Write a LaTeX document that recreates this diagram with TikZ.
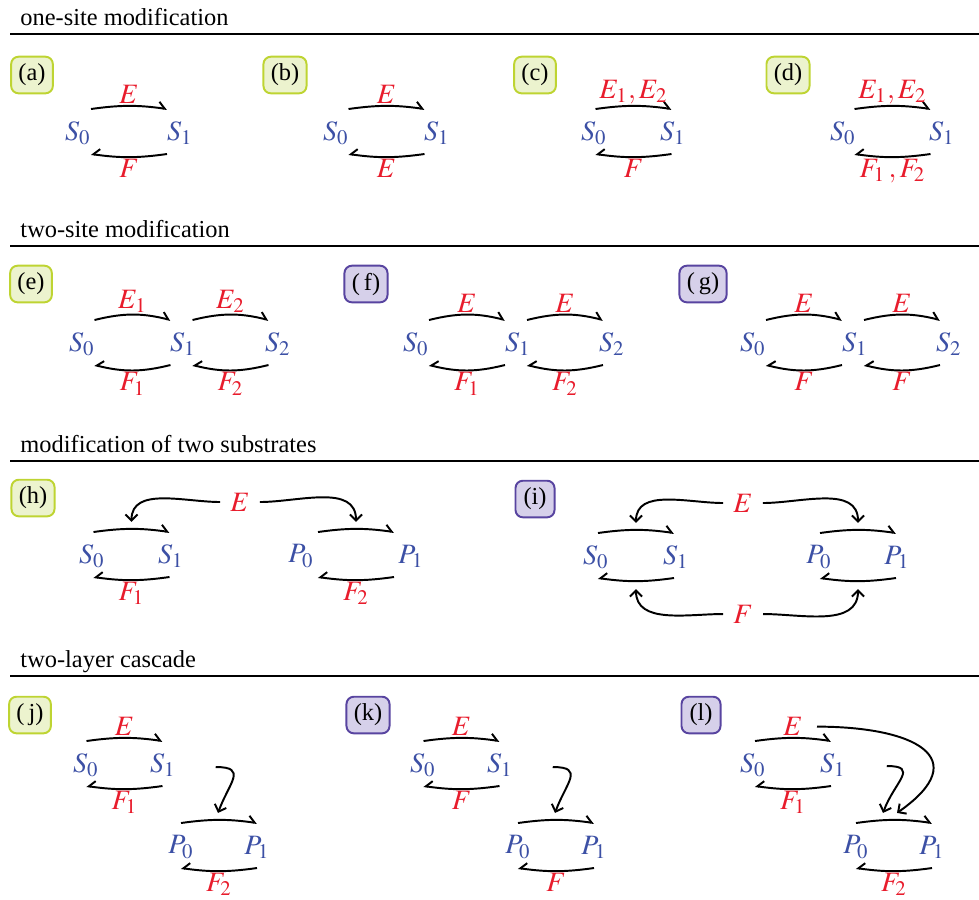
\documentclass[tikz,border=0pt]{standalone}
\usepackage{mathptmx}
\usepackage{fontspec}
\setmainfont{Liberation Serif}
\usetikzlibrary{arrows.meta,calc}

\definecolor{spblue}{RGB}{60,80,165}
\definecolor{enzred}{RGB}{232,28,44}
\definecolor{grfill}{RGB}{236,243,206}
\definecolor{grline}{RGB}{190,212,50}
\definecolor{pufill}{RGB}{214,208,234}
\definecolor{puline}{RGB}{88,68,160}

\tikzset{
  sp/.style={text=spblue, inner sep=1pt, font=\fontsize{11.5}{13}\selectfont},
  lab/.style={text=enzred, inner sep=0.5pt, font=\fontsize{11.5}{13}\selectfont},
  enz/.style={text=enzred, inner sep=4pt, font=\fontsize{11.5}{13}\selectfont},
  fwd/.style={thick, -{Straight Barb[harpoon,length=2.5pt,width=5pt]}},
  bwd/.style={thick, -{Straight Barb[harpoon,swap,length=2.5pt,width=5pt]}},
  cat/.style={thick, -{Straight Barb[length=2.5pt,width=5pt]}},
  tag/.style={draw, rounded corners=3pt, line width=0.8pt, minimum width=16pt,
    minimum height=15pt, inner xsep=3pt, inner ysep=1pt},
  good/.style={tag, fill=grfill, draw=grline},
  bad/.style={tag, fill=pufill, draw=puline},
  head/.style={anchor=base west, inner sep=0pt},
  rule/.style={line width=1.2pt}
}

% forward and backward reaction between two named nodes
\newcommand\rx[6][8]{%
  \draw[fwd] ($(#2)!.5!(#3)+(-38,24)$) to[bend left=#1]
    node[lab,above,midway] (#6e) {\ensuremath{#4}} coordinate[midway] (#6t)
    ($(#2)!.5!(#3)+(38,24)$);
  \draw[bwd] ($(#2)!.5!(#3)+(38,-21)$) to[bend left=#1]
    node[lab,below,midway] (#6f) {\ensuremath{#5}} coordinate[midway] (#6b)
    ($(#2)!.5!(#3)+(-38,-21)$);
}

\begin{document}
\begin{tikzpicture}[x=0.41pt,y=0.41pt]
\useasboundingbox (0,0) rectangle (979,-899);

% one-site modification
\node[head] (h1) at (20,-25) {one-site modification};
\draw[rule] (10,-34) -- (979,-34);

\node[good] (ta) at (32,-75) {(a)};
\node[sp] (as0) at (78,-133) {$S_0$};
\node[sp] (as1) at (180,-133) {$S_1$};
\rx{as0}{as1}{E}{F}{ma}

\node[good] (tb) at (285,-75) {(b)};
\node[sp] (bs0) at (336,-133) {$S_0$};
\node[sp] (bs1) at (437,-133) {$S_1$};
\rx{bs0}{bs1}{E}{E}{mb}

\node[good] (tc) at (535,-75) {(c)};
\node[sp] (cs0) at (594,-133) {$S_0$};
\node[sp] (cs1) at (673,-133) {$S_1$};
\rx{cs0}{cs1}{E_1, E_2}{F}{mc}

\node[good] (td) at (788,-75) {(d)};
\node[sp] (ds0) at (843,-133) {$S_0$};
\node[sp] (ds1) at (942,-133) {$S_1$};
\rx{ds0}{ds1}{E_1, E_2}{F_1\,,F_2}{md}

% two-site modification
\node[head] (h2) at (20,-237) {two-site modification};
\draw[rule] (10,-246) -- (979,-246);

\node[good] (te) at (31,-284) {(e)};
\node[sp] (es0) at (82,-344) {$S_0$};
\node[sp] (es1) at (183,-344) {$S_1$};
\node[sp] (es2) at (278,-344) {$S_2$};
\rx[14]{es0}{es1}{E_1}{F_1}{me1}
\rx[14]{es1}{es2}{E_2}{F_2}{me2}

\node[bad] (tf) at (366,-284) {(\,f)};
\node[sp] (fs0) at (416,-344) {$S_0$};
\node[sp] (fs1) at (518,-344) {$S_1$};
\node[sp] (fs2) at (612,-344) {$S_2$};
\rx[14]{fs0}{fs1}{E}{F_1}{mf1}
\rx[14]{fs1}{fs2}{E}{F_2}{mf2}

\node[bad] (tg) at (703,-284) {(\,g)};
\node[sp] (gs0) at (753,-344) {$S_0$};
\node[sp] (gs1) at (855,-344) {$S_1$};
\node[sp] (gs2) at (949,-344) {$S_2$};
\rx[14]{gs0}{gs1}{E}{F}{mg1}
\rx[14]{gs1}{gs2}{E}{F}{mg2}

% modification of two substrates
\node[head] (h3) at (20,-452) {modification of two substrates};
\draw[rule] (10,-461) -- (979,-461);

\node[good] (th) at (33,-498) {(h)};
\node[sp] (hs0) at (92,-556) {$S_0$};
\node[sp] (hs1) at (171,-556) {$S_1$};
\node[sp] (hp0) at (301,-556) {$P_0$};
\node[sp] (hp1) at (411,-556) {$P_1$};
\rx{hs0}{hs1}{}{F_1}{mhs}
\rx{hp0}{hp1}{}{F_2}{mhp}
\node[enz] (he) at (240,-502) {$E$};
\draw[cat] (he.west) to[out=180,in=90] ($(mhst)+(0,7)$);
\draw[cat] (he.east) to[out=0,in=90] ($(mhpt)+(0,7)$);

\node[bad] (ti) at (535,-499) {(i)};
\node[sp] (is0) at (596,-557) {$S_0$};
\node[sp] (is1) at (676,-557) {$S_1$};
\node[sp] (ip0) at (819,-557) {$P_0$};
\node[sp] (ip1) at (897,-557) {$P_1$};
\rx{is0}{is1}{}{}{mis}
\rx{ip0}{ip1}{}{}{mip}
\node[enz] (ie) at (743,-503) {$E$};
\node[enz] (if) at (743,-614) {$F$};
\draw[cat] (ie.west) to[out=180,in=90] ($(mist)+(0,7)$);
\draw[cat] (ie.east) to[out=0,in=90] ($(mipt)+(0,7)$);
\draw[cat] (if.west) to[out=180,in=-90] ($(misb)+(0,-8)$);
\draw[cat] (if.east) to[out=0,in=-90] ($(mipb)+(0,-8)$);

% two-layer cascade
\node[head] (h4) at (20,-667) {two-layer cascade};
\draw[rule] (10,-676) -- (979,-676);

\node[good] (tj) at (30,-715) {(\,j)};
\node[sp] (js0) at (86,-765) {$S_0$};
\node[sp] (js1) at (163,-765) {$S_1$};
\node[sp] (jp0) at (181,-847) {$P_0$};
\node[sp] (jp1) at (257,-847) {$P_1$};
\rx{js0}{js1}{E}{F_1}{mjs}
\rx{jp0}{jp1}{}{F_2}{mjp}
\draw[cat] ([shift={(37,-2)}]js1.east) to[out=0,in=70,looseness=1.8] ($(mjpt)+(-1,7)$);

\node[bad] (tk) at (368,-715) {(k)};
\node[sp] (ks0) at (423,-765) {$S_0$};
\node[sp] (ks1) at (500,-765) {$S_1$};
\node[sp] (kp0) at (518,-847) {$P_0$};
\node[sp] (kp1) at (594,-847) {$P_1$};
\rx{ks0}{ks1}{E}{F}{mks}
\rx{kp0}{kp1}{}{F}{mkp}
\draw[cat] ([shift={(37,-2)}]ks1.east) to[out=0,in=70,looseness=1.8] ($(mkpt)+(-1,7)$);

\node[bad] (tl) at (701,-715) {(l)};
\node[sp] (ls0) at (753,-765) {$S_0$};
\node[sp] (ls1) at (833,-765) {$S_1$};
\node[sp] (lp0) at (856,-847) {$P_0$};
\node[sp] (lp1) at (932,-847) {$P_1$};
\rx{ls0}{ls1}{E}{F_1}{mls}
\rx{lp0}{lp1}{}{F_2}{mlp}
\draw[cat] ([shift={(38,-1)}]ls1.east) to[out=0,in=70,looseness=1.8] ($(mlpt)+(-11,7)$);
\draw[cat] ([xshift=5pt]mlse.east) to[out=0,in=35,looseness=2.1] ($(mlpt)+(3,7)$);
\end{tikzpicture}
\end{document}
